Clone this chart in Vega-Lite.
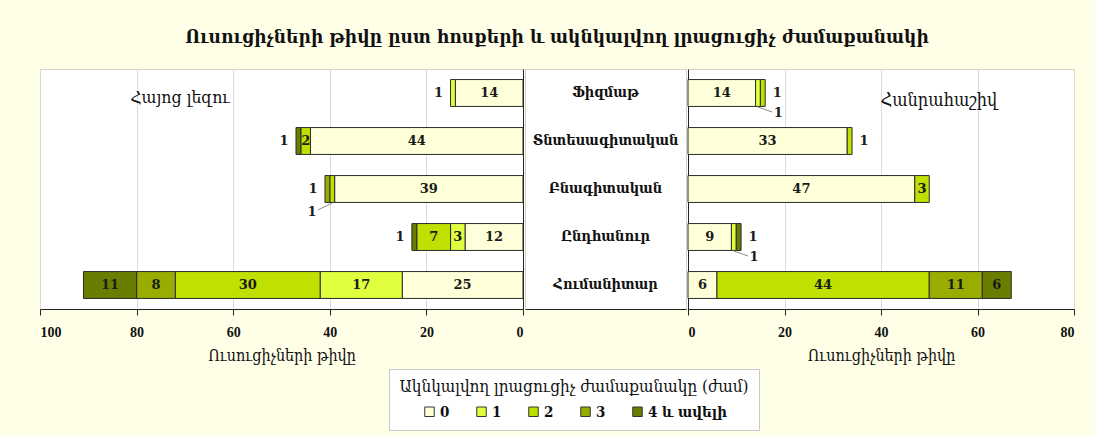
{
  "$schema": "https://vega.github.io/schema/vega-lite/v6.json",
  "background": "#FFFFE8",
  "padding": {"left": 39, "top": 27, "right": 20, "bottom": 5},
  "title": {"text": "Ուսուցիչների թիվը ըստ հոսքերի և ակնկալվող լրացուցիչ ժամաքանակի", "font": "DejaVu Serif Condensed", "fontSize": 19, "fontWeight": "bold", "color": "#111", "anchor": "middle", "offset": 22},
  "data": {"values": [
    {"subject": "Հայոց լեզու", "stream": "Ֆիզմաթ", "hours": "0", "n": 14},
    {"subject": "Հայոց լեզու", "stream": "Ֆիզմաթ", "hours": "1", "n": 1},
    {"subject": "Հայոց լեզու", "stream": "Տնտեսագիտական", "hours": "0", "n": 44},
    {"subject": "Հայոց լեզու", "stream": "Տնտեսագիտական", "hours": "2", "n": 2},
    {"subject": "Հայոց լեզու", "stream": "Տնտեսագիտական", "hours": "4 և ավելի", "n": 1},
    {"subject": "Հայոց լեզու", "stream": "Բնագիտական", "hours": "0", "n": 39},
    {"subject": "Հայոց լեզու", "stream": "Բնագիտական", "hours": "2", "n": 1},
    {"subject": "Հայոց լեզու", "stream": "Բնագիտական", "hours": "3", "n": 1},
    {"subject": "Հայոց լեզու", "stream": "Ընդհանուր", "hours": "0", "n": 12},
    {"subject": "Հայոց լեզու", "stream": "Ընդհանուր", "hours": "1", "n": 3},
    {"subject": "Հայոց լեզու", "stream": "Ընդհանուր", "hours": "2", "n": 7},
    {"subject": "Հայոց լեզու", "stream": "Ընդհանուր", "hours": "4 և ավելի", "n": 1},
    {"subject": "Հայոց լեզու", "stream": "Հումանիտար", "hours": "0", "n": 25},
    {"subject": "Հայոց լեզու", "stream": "Հումանիտար", "hours": "1", "n": 17},
    {"subject": "Հայոց լեզու", "stream": "Հումանիտար", "hours": "2", "n": 30},
    {"subject": "Հայոց լեզու", "stream": "Հումանիտար", "hours": "3", "n": 8},
    {"subject": "Հայոց լեզու", "stream": "Հումանիտար", "hours": "4 և ավելի", "n": 11},
    {"subject": "Հանրահաշիվ", "stream": "Ֆիզմաթ", "hours": "0", "n": 14},
    {"subject": "Հանրահաշիվ", "stream": "Ֆիզմաթ", "hours": "1", "n": 1},
    {"subject": "Հանրահաշիվ", "stream": "Ֆիզմաթ", "hours": "2", "n": 1},
    {"subject": "Հանրահաշիվ", "stream": "Տնտեսագիտական", "hours": "0", "n": 33},
    {"subject": "Հանրահաշիվ", "stream": "Տնտեսագիտական", "hours": "2", "n": 1},
    {"subject": "Հանրահաշիվ", "stream": "Բնագիտական", "hours": "0", "n": 47},
    {"subject": "Հանրահաշիվ", "stream": "Բնագիտական", "hours": "2", "n": 3},
    {"subject": "Հանրահաշիվ", "stream": "Ընդհանուր", "hours": "0", "n": 9},
    {"subject": "Հանրահաշիվ", "stream": "Ընդհանուր", "hours": "1", "n": 1},
    {"subject": "Հանրահաշիվ", "stream": "Ընդհանուր", "hours": "4 և ավելի", "n": 1},
    {"subject": "Հանրահաշիվ", "stream": "Հումանիտար", "hours": "0", "n": 6},
    {"subject": "Հանրահաշիվ", "stream": "Հումանիտար", "hours": "2", "n": 44},
    {"subject": "Հանրահաշիվ", "stream": "Հումանիտար", "hours": "3", "n": 11},
    {"subject": "Հանրահաշիվ", "stream": "Հումանիտար", "hours": "4 և ավելի", "n": 6}
  ]},
  "spacing": 0,
  "resolve": {"scale": {"x": "independent", "y": "shared", "color": "shared"}, "axis": {"x": "independent", "y": "independent"}},
  "hconcat": [
    {
      "width": 483,
      "height": 240,
      "transform": [
        {"filter": "datum.subject === 'Հայոց լեզու'"},
        {"stack": "n", "groupby": ["stream"], "sort": [{"field": "hours", "order": "ascending"}], "as": ["x0", "x1"]},
        {"joinaggregate": [{"op": "sum", "field": "n", "as": "total"}], "groupby": ["stream"]},
        {"calculate": "(datum.x0 + datum.x1) / 2", "as": "mid"}
      ],
      "encoding": {
        "y": {"field": "stream", "type": "nominal", "sort": ["Ֆիզմաթ", "Տնտեսագիտական", "Բնագիտական", "Ընդհանուր", "Հումանիտար"], "scale": {"domain": ["Ֆիզմաթ", "Տնտեսագիտական", "Բնագիտական", "Ընդհանուր", "Հումանիտար"], "paddingInner": 0.44, "paddingOuter": 0.22}, "axis": {"orient": "right", "labels": false, "ticks": false, "title": null, "grid": false, "domainColor": "#222"}}
      },
      "layer": [
        {
          "mark": {"type": "bar", "stroke": "#2b2b2b", "strokeWidth": 1},
          "encoding": {
            "x": {"field": "x0", "type": "quantitative", "scale": {"domain": [0, 100], "reverse": true, "nice": false}, "axis": {"values": [0, 20, 40, 60, 80, 100], "title": "Ուսուցիչների թիվը", "grid": true}},
            "x2": {"field": "x1"},
            "color": {"field": "hours", "type": "nominal", "title": "Ակնկալվող լրացուցիչ ժամաքանակը (ժամ)", "scale": {"domain": ["0", "1", "2", "3", "4 և ավելի"], "range": ["#FFFFD9", "#DFFF3F", "#BFE000", "#98AD00", "#6B7D00"]}}
          }
        },
        {
          "transform": [{"filter": "datum.n >= 2"}],
          "mark": {"type": "text", "font": "DejaVu Serif", "fontSize": 13, "fontWeight": "bold", "color": "#1a1a1a"},
          "encoding": {"x": {"field": "mid", "type": "quantitative"}, "text": {"field": "n", "type": "quantitative"}}
        },
        {
          "transform": [{"filter": "datum.n < 2"}, {"window": [{"op": "row_number", "as": "k"}], "groupby": ["stream"], "sort": [{"field": "hours", "order": "descending"}]}, {"filter": "datum.k === 1"}],
          "mark": {"type": "text", "font": "DejaVu Serif", "fontSize": 13, "fontWeight": "bold", "color": "#1a1a1a", "dx": -12},
          "encoding": {"x": {"field": "total", "type": "quantitative"}, "text": {"field": "n", "type": "quantitative"}}
        },
        {
          "transform": [{"filter": "datum.n < 2"}, {"window": [{"op": "row_number", "as": "k"}], "groupby": ["stream"], "sort": [{"field": "hours", "order": "descending"}]}, {"filter": "datum.k === 2"}],
          "mark": {"type": "text", "font": "DejaVu Serif", "fontSize": 13, "fontWeight": "bold", "color": "#1a1a1a", "dx": -13, "dy": 23},
          "encoding": {"x": {"field": "total", "type": "quantitative"}, "text": {"field": "n", "type": "quantitative"}}
        },
        {
          "transform": [{"filter": "datum.n < 2"}, {"window": [{"op": "row_number", "as": "k"}], "groupby": ["stream"], "sort": [{"field": "hours", "order": "descending"}]}, {"filter": "datum.k === 2"}],
          "mark": {"type": "rule", "color": "#8a8a8a", "strokeWidth": 1, "yOffset": 14, "y2Offset": 21, "x2Offset": -7},
          "encoding": {"x": {"field": "mid", "type": "quantitative"}, "x2": {"field": "total"}, "y2": {"field": "stream"}}
        },
        {
          "transform": [{"filter": "datum.stream === 'Ֆիզմաթ' && datum.hours === '0'"}],
          "mark": {"type": "text", "font": "DejaVu Serif Condensed", "fontSize": 17.5, "color": "#111", "dy": 5},
          "encoding": {"x": {"datum": 71}, "text": {"value": "Հայոց լեզու"}}
        }
      ]
    },
    {
      "width": 161,
      "height": 240,
      "transform": [{"filter": "datum.subject === 'Հայոց լեզու' && datum.hours === '0'"}],
      "mark": {"type": "text", "font": "DejaVu Serif Condensed", "fontSize": 14.5, "fontWeight": "bold", "color": "#111"},
      "encoding": {
        "x": {"datum": 0, "scale": {"domain": [-1, 1]}, "axis": {"ticks": false, "labels": false, "grid": false, "title": null, "domainColor": "#222"}},
        "y": {"field": "stream", "type": "nominal", "sort": ["Ֆիզմաթ", "Տնտեսագիտական", "Բնագիտական", "Ընդհանուր", "Հումանիտար"], "axis": null},
        "text": {"field": "stream", "type": "nominal"}
      }
    },
    {
      "width": 386,
      "height": 240,
      "transform": [
        {"filter": "datum.subject === 'Հանրահաշիվ'"},
        {"stack": "n", "groupby": ["stream"], "sort": [{"field": "hours", "order": "ascending"}], "as": ["x0", "x1"]},
        {"joinaggregate": [{"op": "sum", "field": "n", "as": "total"}], "groupby": ["stream"]},
        {"calculate": "(datum.x0 + datum.x1) / 2", "as": "mid"}
      ],
      "encoding": {
        "y": {"field": "stream", "type": "nominal", "sort": ["Ֆիզմաթ", "Տնտեսագիտական", "Բնագիտական", "Ընդհանուր", "Հումանիտար"], "axis": {"orient": "left", "labels": false, "ticks": false, "title": null, "grid": false, "domainColor": "#222"}}
      },
      "layer": [
        {
          "mark": {"type": "bar", "stroke": "#2b2b2b", "strokeWidth": 1},
          "encoding": {
            "x": {"field": "x0", "type": "quantitative", "scale": {"domain": [0, 80], "nice": false}, "axis": {"values": [0, 20, 40, 60, 80], "title": "Ուսուցիչների թիվը", "grid": true}},
            "x2": {"field": "x1"},
            "color": {"field": "hours", "type": "nominal", "title": "Ակնկալվող լրացուցիչ ժամաքանակը (ժամ)", "scale": {"domain": ["0", "1", "2", "3", "4 և ավելի"], "range": ["#FFFFD9", "#DFFF3F", "#BFE000", "#98AD00", "#6B7D00"]}}
          }
        },
        {
          "transform": [{"filter": "datum.n >= 2"}],
          "mark": {"type": "text", "font": "DejaVu Serif", "fontSize": 13, "fontWeight": "bold", "color": "#1a1a1a"},
          "encoding": {"x": {"field": "mid", "type": "quantitative"}, "text": {"field": "n", "type": "quantitative"}}
        },
        {
          "transform": [{"filter": "datum.n < 2"}, {"window": [{"op": "row_number", "as": "k"}], "groupby": ["stream"], "sort": [{"field": "hours", "order": "descending"}]}, {"filter": "datum.k === 1"}],
          "mark": {"type": "text", "font": "DejaVu Serif", "fontSize": 13, "fontWeight": "bold", "color": "#1a1a1a", "dx": 12},
          "encoding": {"x": {"field": "total", "type": "quantitative"}, "text": {"field": "n", "type": "quantitative"}}
        },
        {
          "transform": [{"filter": "datum.n < 2"}, {"window": [{"op": "row_number", "as": "k"}], "groupby": ["stream"], "sort": [{"field": "hours", "order": "descending"}]}, {"filter": "datum.k === 2"}],
          "mark": {"type": "text", "font": "DejaVu Serif", "fontSize": 13, "fontWeight": "bold", "color": "#1a1a1a", "dx": 13, "dy": 20},
          "encoding": {"x": {"field": "total", "type": "quantitative"}, "text": {"field": "n", "type": "quantitative"}}
        },
        {
          "transform": [{"filter": "datum.n < 2"}, {"window": [{"op": "row_number", "as": "k"}], "groupby": ["stream"], "sort": [{"field": "hours", "order": "descending"}]}, {"filter": "datum.k === 2"}],
          "mark": {"type": "rule", "color": "#8a8a8a", "strokeWidth": 1, "yOffset": 14, "y2Offset": 19, "x2Offset": 7},
          "encoding": {"x": {"field": "mid", "type": "quantitative"}, "x2": {"field": "total"}, "y2": {"field": "stream"}}
        },
        {
          "transform": [{"filter": "datum.stream === 'Ֆիզմաթ' && datum.hours === '0'"}],
          "mark": {"type": "text", "font": "DejaVu Serif Condensed", "fontSize": 18, "color": "#111", "dy": 8},
          "encoding": {"x": {"datum": 52}, "text": {"value": "Հանրահաշիվ"}}
        }
      ]
    }
  ],
  "config": {
    "font": "DejaVu Serif Condensed",
    "view": {"stroke": "#d0d0d0", "fill": "white"},
    "axis": {"labelFont": "Liberation Serif", "labelFontSize": 14, "labelFontWeight": "bold", "labelColor": "#111", "labelPadding": 10, "tickSize": 6, "tickColor": "#222", "domainColor": "#222", "gridColor": "#dadada", "titleFont": "DejaVu Serif Condensed", "titleFontSize": 16, "titleFontWeight": "normal", "titleColor": "#111", "titlePadding": 8},
    "legend": {"orient": "none", "legendX": 349, "legendY": 300, "direction": "horizontal", "titleAnchor": "middle", "titleOrient": "top", "titleLimit": 600, "titleFont": "DejaVu Serif Condensed", "titleFontSize": 17, "titleFontWeight": "normal", "titleColor": "#111", "titlePadding": 8, "labelFont": "DejaVu Serif Condensed", "labelFontSize": 15, "labelFontWeight": "bold", "labelColor": "#111", "symbolType": "square", "symbolSize": 90, "symbolStrokeColor": "#333", "symbolStrokeWidth": 1, "columnPadding": 24, "padding": 10, "strokeColor": "#c8c8c8", "fillColor": "white", "labelOffset": 3}
  }
}
